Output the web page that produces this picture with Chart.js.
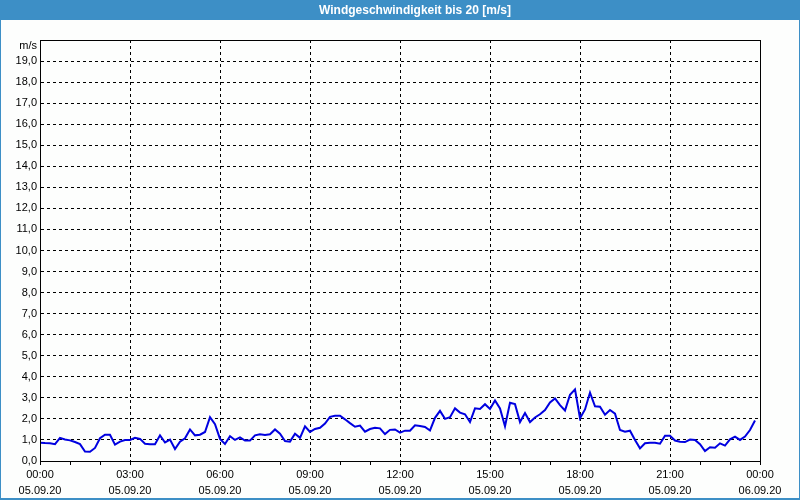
<!DOCTYPE html>
<html>
<head>
<meta charset="utf-8">
<script src="https://cdn.jsdelivr.net/npm/chart.js@4"></script>
<style>
    html, body { margin: 0; padding: 0; background: #fdfefd; }
    #wrap { width: 800px; height: 500px; position: relative; }
</style>
</head>
<body>
<div id="wrap"><canvas id="windChart" width="800" height="500"></canvas></div>
<script>
// Wind speed in m/s, one value every 10 minutes from 05.09.20 00:00
const sampleMinutes = 10;
const windSpeed = [
    0.87, 0.85, 0.84, 0.80, 1.10, 1.02, 0.98, 0.90, 0.80, 0.45, 0.44, 0.62,
    1.08, 1.25, 1.25, 0.78, 0.92, 1.00, 1.00, 1.10, 1.05, 0.82, 0.80, 0.80,
    1.22, 0.88, 1.02, 0.57, 0.92, 1.08, 1.50, 1.22, 1.25, 1.38, 2.08, 1.75,
    1.05, 0.81, 1.18, 1.00, 1.12, 0.97, 0.97, 1.22, 1.27, 1.24, 1.27, 1.50,
    1.30, 0.95, 0.92, 1.30, 1.10, 1.65, 1.38, 1.52, 1.58, 1.78, 2.10, 2.15,
    2.15, 1.98, 1.80, 1.63, 1.68, 1.39, 1.52, 1.58, 1.55, 1.28, 1.48, 1.50,
    1.35, 1.44, 1.44, 1.70, 1.66, 1.62, 1.45, 2.05, 2.38, 2.00, 2.08, 2.50,
    2.30, 2.22, 1.85, 2.50, 2.47, 2.70, 2.47, 2.88, 2.50, 1.65, 2.77, 2.70,
    1.85, 2.28, 1.85, 2.07, 2.22, 2.42, 2.78, 2.97, 2.65, 2.40, 3.15, 3.40,
    2.03, 2.45, 3.25, 2.60, 2.58, 2.20, 2.42, 2.25, 1.47, 1.39, 1.44, 1.00,
    0.60, 0.84, 0.87, 0.87, 0.82, 1.20, 1.20, 0.97, 0.92, 0.90, 1.02, 1.00,
    0.80, 0.47, 0.65, 0.63, 0.84, 0.73, 1.03, 1.16, 1.00, 1.16, 1.47, 1.92
];

// x axis labels, every 3 hours
const timeLabels = ['00:00', '03:00', '06:00', '09:00', '12:00', '15:00', '18:00', '21:00', '00:00'];
const dateLabels = ['05.09.20', '05.09.20', '05.09.20', '05.09.20', '05.09.20', '05.09.20', '05.09.20', '05.09.20', '06.09.20'];

const chartTitle = 'Windgeschwindigkeit bis 20 [m/s]';
const unitLabel = 'm/s';

const points = windSpeed.map((v, i) => ({ x: i * sampleMinutes / 60, y: v }));

// Draws the window frame, title bar and the box round the plot
const framePlugin = {
    id: 'frame',
    beforeDraw(chart) {
        const ctx = chart.ctx;
        ctx.save();
        ctx.fillStyle = '#fdfefd';
        ctx.fillRect(0, 0, chart.width, chart.height);
        ctx.fillStyle = '#3d8fc6';
        ctx.fillRect(0, 0, chart.width, 20);
        ctx.fillRect(0, 0, 1, chart.height);
        ctx.fillRect(chart.width - 1, 0, 1, chart.height);
        ctx.fillRect(0, chart.height - 2, chart.width, 2);
        ctx.fillStyle = '#ffffff';
        ctx.font = 'bold 12px "Liberation Sans", Arial, sans-serif';
        ctx.textAlign = 'center';
        ctx.textBaseline = 'middle';
        ctx.fillText(chartTitle, 415, 10.5);
        ctx.restore();
    },
    afterDraw(chart) {
        const ctx = chart.ctx;
        const a = chart.chartArea;
        ctx.save();
        ctx.strokeStyle = '#000';
        ctx.lineWidth = 1;
        ctx.strokeRect(Math.round(a.left) + 0.5, Math.round(a.top) + 0.5,
            Math.round(a.right - a.left), Math.round(a.bottom - a.top));
        ctx.fillStyle = '#000';
        ctx.font = '11px "Liberation Sans", Arial, sans-serif';
        ctx.textAlign = 'right';
        ctx.textBaseline = 'middle';
        ctx.fillText(unitLabel, a.left - 3, a.top + 6);
        ctx.restore();
    }
};

new Chart(document.getElementById('windChart'), {
    type: 'line',
    data: {
        datasets: [{
            data: points,
            borderColor: '#0000e0',
            borderWidth: 2,
            pointRadius: 0,
            tension: 0,
            fill: false
        }]
    },
    options: {
        responsive: false,
        animation: false,
        layout: { padding: { left: 0, top: 40, right: 40, bottom: 0 } },
        plugins: {
            legend: { display: false },
            title: { display: false },
            tooltip: { enabled: false }
        },
        scales: {
            x: {
                type: 'linear',
                min: 0,
                max: 24,
                afterFit(scale) { scale.height = 39; },
                ticks: {
                    stepSize: 1,
                    autoSkip: false,
                    maxRotation: 0,
                    padding: 2,
                    color: '#000',
                    font: { family: '"Liberation Sans", Arial, sans-serif', size: 11, lineHeight: 1.45 },
                    callback: function(value) {
                        if (value % 3 !== 0) return '';
                        const i = value / 3;
                        return [timeLabels[i], dateLabels[i]];
                    }
                },
                grid: {
                    color: ctx => (ctx.tick && ctx.tick.value % 3 === 0) ? '#000' : 'rgba(0,0,0,0)',
                    tickColor: '#000',
                    tickLength: 4,
                    lineWidth: 1
                },
                border: { display: true, color: '#000', width: 1, dash: [3, 3] }
            },
            y: {
                min: 0,
                max: 20,
                afterFit(scale) { scale.width = 40; },
                ticks: {
                    stepSize: 1,
                    padding: 3,
                    color: '#000',
                    font: { family: '"Liberation Sans", Arial, sans-serif', size: 11 },
                    callback: function(value) {
                        if (value >= 20) return '';
                        return value.toFixed(1).replace('.', ',');
                    }
                },
                grid: {
                    color: '#000',
                    drawTicks: false,
                    lineWidth: 1
                },
                border: { display: true, color: '#000', width: 1, dash: [3, 3] }
            }
        }
    },
    plugins: [framePlugin]
});
</script>
</body>
</html>
